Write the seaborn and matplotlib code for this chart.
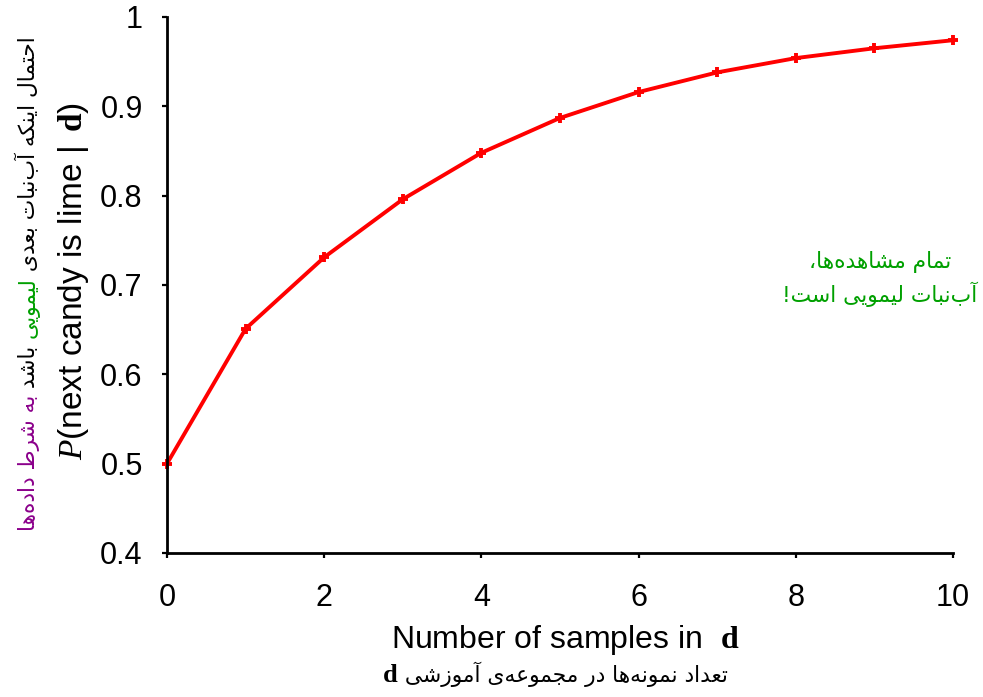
import matplotlib
matplotlib.use("Agg")
import matplotlib.pyplot as plt
import seaborn as sns
import pandas as pd

# ---- data -------------------------------------------------------------
n_samples = [0, 1, 2, 3, 4, 5, 6, 7, 8, 9, 10]
p_lime = [0.500, 0.651, 0.731, 0.796, 0.848, 0.887, 0.916, 0.938, 0.954, 0.965, 0.974]

x_ticks = [0, 2, 4, 6, 8, 10]
y_ticks = [0.4, 0.5, 0.6, 0.7, 0.8, 0.9, 1.0]
y_tick_labels = ["0.4", "0.5", "0.6", "0.7", "0.8", "0.9", "1"]

ylabel_en = r"$\mathit{P}$(next candy is lime | $\,\mathbf{d}$)"
xlabel_en = r"Number of samples in  $\mathbf{d}$"

GREEN = "#00a000"
PURPLE = "#8b008b"
ZWNJ = "\u200c"

ylabel_fa_parts = [
    ("احتمال اینکه آب" + ZWNJ + "نبات بعدی ", "black"),
    ("لیمویی", GREEN),
    (" باشد ", "black"),
    ("به شرط داده" + ZWNJ + "ها", PURPLE),
]
xlabel_fa = "تعداد نمونه" + ZWNJ + "ها در مجموعه" + ZWNJ + "ی آموزشی"
note_fa = ["تمام مشاهده" + ZWNJ + "ها،", "آب" + ZWNJ + "نبات لیمویی است!"]

# ---- minimal Arabic-script shaping (presentation forms + visual order) --
DUAL = {  # isolated, final, initial, medial
    "ب": (0xFE8F, 0xFE90, 0xFE91, 0xFE92),
    "پ": (0xFB56, 0xFB57, 0xFB58, 0xFB59),
    "ت": (0xFE95, 0xFE96, 0xFE97, 0xFE98),
    "ث": (0xFE99, 0xFE9A, 0xFE9B, 0xFE9C),
    "ج": (0xFE9D, 0xFE9E, 0xFE9F, 0xFEA0),
    "ح": (0xFEA1, 0xFEA2, 0xFEA3, 0xFEA4),
    "خ": (0xFEA5, 0xFEA6, 0xFEA7, 0xFEA8),
    "س": (0xFEB1, 0xFEB2, 0xFEB3, 0xFEB4),
    "ش": (0xFEB5, 0xFEB6, 0xFEB7, 0xFEB8),
    "ص": (0xFEB9, 0xFEBA, 0xFEBB, 0xFEBC),
    "ط": (0xFEC1, 0xFEC2, 0xFEC3, 0xFEC4),
    "ع": (0xFEC9, 0xFECA, 0xFECB, 0xFECC),
    "غ": (0xFECD, 0xFECE, 0xFECF, 0xFED0),
    "ف": (0xFED1, 0xFED2, 0xFED3, 0xFED4),
    "ق": (0xFED5, 0xFED6, 0xFED7, 0xFED8),
    "ک": (0xFB8E, 0xFB8F, 0xFB90, 0xFB91),
    "گ": (0xFB92, 0xFB93, 0xFB94, 0xFB95),
    "ل": (0xFEDD, 0xFEDE, 0xFEDF, 0xFEE0),
    "م": (0xFEE1, 0xFEE2, 0xFEE3, 0xFEE4),
    "ن": (0xFEE5, 0xFEE6, 0xFEE7, 0xFEE8),
    "ه": (0xFEE9, 0xFEEA, 0xFEEB, 0xFEEC),
    "ی": (0xFBFC, 0xFBFD, 0xFBFE, 0xFBFF),
}
RIGHT = {  # isolated, final
    "ا": (0xFE8D, 0xFE8E),
    "آ": (0xFE81, 0xFE82),
    "د": (0xFEA9, 0xFEAA),
    "ذ": (0xFEAB, 0xFEAC),
    "ر": (0xFEAD, 0xFEAE),
    "ز": (0xFEAF, 0xFEB0),
    "ژ": (0xFB8A, 0xFB8B),
    "و": (0xFEED, 0xFEEE),
}


def shape_rtl(text):
    chars = list(text)
    out = []
    for i, c in enumerate(chars):
        if c == ZWNJ:
            continue
        if c not in DUAL and c not in RIGHT:
            out.append(c)
            continue
        prev = chars[i - 1] if i > 0 else None
        nxt = chars[i + 1] if i + 1 < len(chars) else None
        join_prev = prev in DUAL
        join_next = c in DUAL and (nxt in DUAL or nxt in RIGHT)
        if c in RIGHT:
            out.append(chr(RIGHT[c][1] if join_prev else RIGHT[c][0]))
        else:
            iso, fin, ini, med = DUAL[c]
            if join_prev and join_next:
                out.append(chr(med))
            elif join_prev:
                out.append(chr(fin))
            elif join_next:
                out.append(chr(ini))
            else:
                out.append(chr(iso))
    return "".join(reversed(out))


# ---- style ------------------------------------------------------------
sns.set_theme(style="white")
plt.rcParams["font.family"] = ["Liberation Sans", "DejaVu Sans"]
plt.rcParams["mathtext.fontset"] = "custom"
plt.rcParams["mathtext.rm"] = "Liberation Serif"
plt.rcParams["mathtext.it"] = "Liberation Serif:italic"
plt.rcParams["mathtext.bf"] = "Liberation Serif:bold"

W, H = 983, 697
fig = plt.figure(figsize=(W / 100, H / 100), dpi=100)
ax = fig.add_axes([167 / W, 1 - 553 / H, (953 - 167) / W, (553 - 17) / H])


def fx(px):
    return px / W


def fy(py):
    return 1 - py / H


df = pd.DataFrame({"n": n_samples, "p": p_lime})
sns.lineplot(data=df, x="n", y="p", ax=ax, color="#ff0000", linewidth=2.8,
             marker="+", markersize=7.5, markeredgewidth=2.8,
             markeredgecolor="#ff0000", clip_on=False)

ax.set_xlim(0, 10)
ax.set_ylim(0.4, 1.0)
ax.set_xticks(x_ticks)
ax.set_xticklabels([str(v) for v in x_ticks])
ax.set_yticks(y_ticks)
ax.set_yticklabels(y_tick_labels)
ax.set_xlabel("")
ax.set_ylabel("")
sns.despine(ax=ax)
for side in ("left", "bottom"):
    ax.spines[side].set_linewidth(2.0)
    ax.spines[side].set_color("black")
ax.tick_params(axis="both", direction="out", length=3.5, width=1.6,
               colors="black", labelsize=22, left=True, bottom=True)
ax.tick_params(axis="y", pad=14)
ax.tick_params(axis="x", pad=18)

# English axis labels
fig.text(fx(74), fy(281), ylabel_en, rotation=90, ha="center", va="center",
         fontsize=24, color="black")
fig.text(fx(565), fy(648), xlabel_en, ha="center", va="baseline",
         fontsize=23, color="black")

renderer = fig.canvas.get_renderer()

# Persian y label: pieces stacked bottom-to-top in visual order
fa_size = 15.7
y_cur = 531
for txt, col in reversed(ylabel_fa_parts):
    t = fig.text(fx(35), fy(y_cur), shape_rtl(txt), rotation=90,
                 rotation_mode="anchor", ha="left", va="baseline",
                 fontsize=fa_size, color=col, family=["DejaVu Sans"])
    y_cur -= t.get_window_extent(renderer).height

# Persian x label with bold serif d on the left
pieces = [
    (r"$\mathbf{d}$", {"fontsize": 19}),
    (" " + shape_rtl(xlabel_fa), {"fontsize": fa_size, "family": ["DejaVu Sans"]}),
]
texts = []
for txt, kw in pieces:
    texts.append(fig.text(0, fy(682), txt, ha="left", va="baseline",
                          color="black", **kw))
widths = [t.get_window_extent(renderer).width for t in texts]
x_cur = 382
for t, w in zip(texts, widths):
    t.set_x(fx(x_cur))
    x_cur += w

# Green note on the right
fig.text(fx(880), fy(279), "\n".join(shape_rtl(s) for s in note_fa),
         ha="center", va="center", multialignment="center",
         fontsize=fa_size, color=GREEN, family=["DejaVu Sans"],
         linespacing=1.45)

fig.savefig("out.png", dpi=100)
